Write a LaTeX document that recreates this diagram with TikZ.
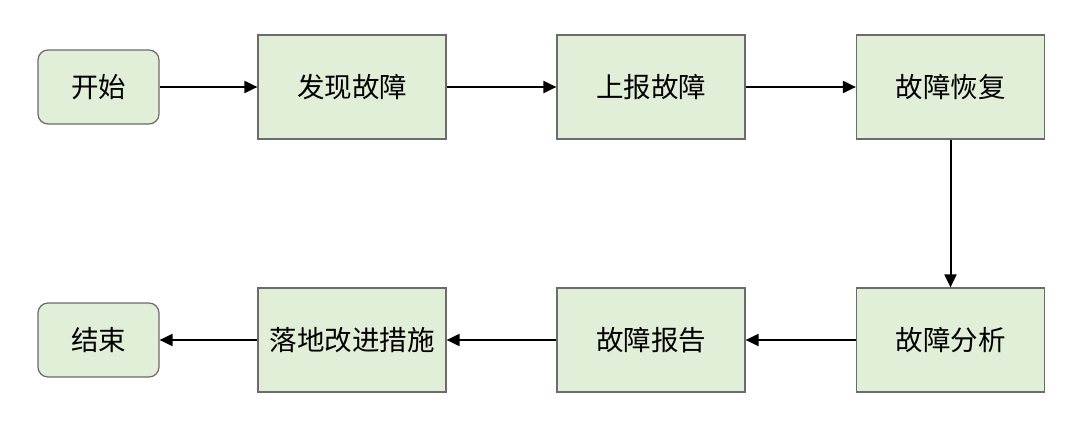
\documentclass[tikz,border=0pt]{standalone}
\usepackage{fontspec}
\setmainfont{Noto Sans CJK SC}
\usetikzlibrary{arrows.meta}
\definecolor{boxfill}{HTML}{E1EED8}
\definecolor{boxdraw}{HTML}{6B6B6B}
\begin{document}
\begin{tikzpicture}[x=1pt,y=-1pt,
  box/.style={draw=boxdraw,fill=boxfill,line width=1.2pt,minimum width=188pt,minimum height=104pt,inner sep=0pt,font=\fontsize{27.5}{31}\selectfont},
  term/.style={box,rounded corners=10pt,minimum width=121pt,minimum height=74pt},
  conn/.style={line width=2pt,-{Triangle[length=13pt,width=12pt]}}]
\useasboundingbox (0,0) rectangle (1080,423);
\node[term] (start) at (98.5,87) {开始};
\node[box] (find) at (352,87) {发现故障};
\node[box] (report) at (651,87) {上报故障};
\node[box] (recover) at (950.5,87) {故障恢复};
\node[box] (analyze) at (950.5,340) {故障分析};
\node[box] (freport) at (651,340) {故障报告};
\node[box] (improve) at (352,340) {落地改进措施};
\node[term] (end) at (98.5,340) {结束};
\draw[conn] (start) -- (find);
\draw[conn] (find) -- (report);
\draw[conn] (report) -- (recover);
\draw[conn] (recover) -- (analyze);
\draw[conn] (analyze) -- (freport);
\draw[conn] (freport) -- (improve);
\draw[conn] (improve) -- (end);
\end{tikzpicture}
\end{document}
